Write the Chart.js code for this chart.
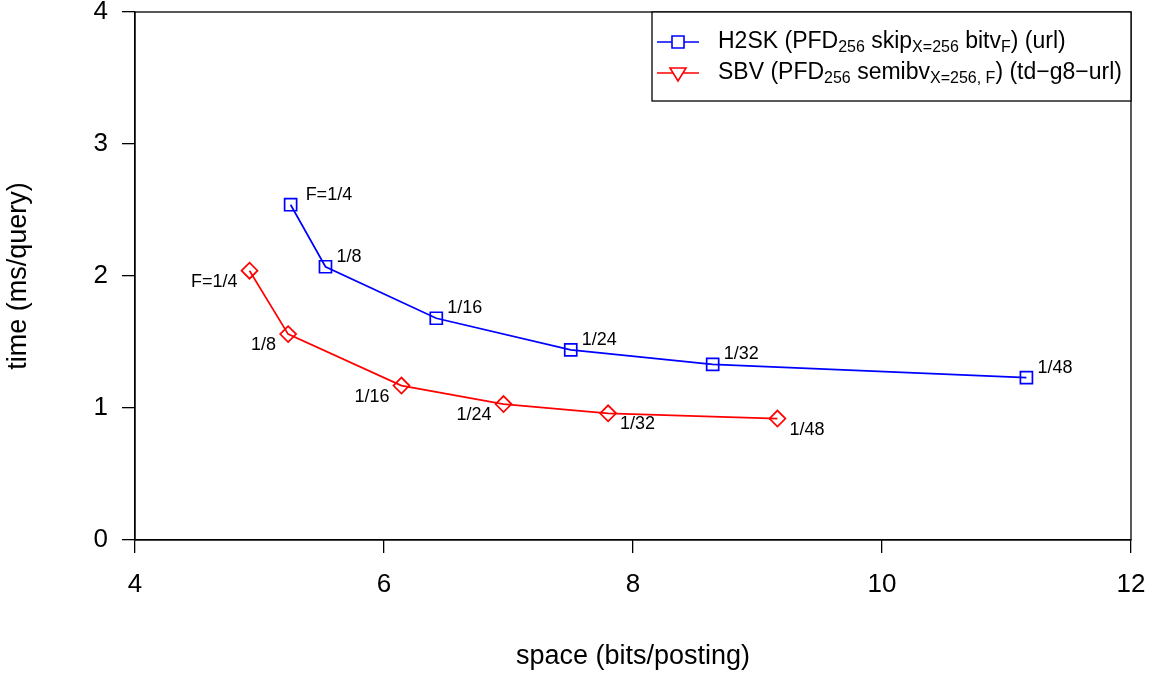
<!DOCTYPE html>
<html>
<head>
<meta charset="utf-8">
<script src="https://cdn.jsdelivr.net/npm/chart.js@4.4.0/dist/chart.umd.min.js"></script>
<style>
  html, body { margin: 0; padding: 0; background: #ffffff; }
  #wrap { width: 1154px; height: 677px; }
</style>
</head>
<body>
<div id="wrap"><canvas id="chart" width="1154" height="677"></canvas></div>
<script>
// Space/time trade-off of two index layouts as the bit-vector fraction F varies.
const h2skSpace = [5.25, 5.53, 6.42, 7.50, 8.64, 11.16];
const h2skTime  = [2.54, 2.07, 1.68, 1.44, 1.33, 1.23];
const sbvSpace  = [4.92, 5.23, 6.14, 6.96, 7.80, 9.16];
const sbvTime   = [2.04, 1.56, 1.17, 1.03, 0.96, 0.92];
const fractionLabels = ["F=1/4", "1/8", "1/16", "1/24", "1/32", "1/48"];
const xTicks = [4, 6, 8, 10, 12];
const yTicks = [0, 1, 2, 3, 4];
const xTitle = "space (bits/posting)";
const yTitle = "time (ms/query)";
// legend entries: [text, isSubscript]
const h2skLegend = [["H2SK (PFD", 0], ["256", 1], [" skip", 0], ["X=256", 1], [" bitv", 0], ["F", 1], [") (url)", 0]];
const sbvLegend  = [["SBV (PFD", 0], ["256", 1], [" semibv", 0], ["X=256, F", 1], [") (td\u2212g8\u2212url)", 0]];

const FONT = "'Liberation Sans', Arial, Helvetica, sans-serif";
const BLUE = "#0000ff";
const RED = "#ff0000";

function toPoints(xs, ys) {
  return xs.map((x, i) => ({ x: x, y: ys[i] }));
}

// label placement for each series: alignment and offset from the marker
const h2skLabelPlace = (i) => ({ align: "left", dx: i === 0 ? 15 : 11, dy: -10 });
const sbvLabelPlace = (i) => (i < 4 ? { align: "right", dx: -12, dy: 11 } : { align: "left", dx: 12, dy: 11 });

const pointLabels = {
  id: "pointLabels",
  afterDatasetsDraw(chart) {
    const ctx = chart.ctx;
    ctx.save();
    ctx.font = "18px " + FONT;
    ctx.fillStyle = "#000";
    ctx.textBaseline = "middle";
    chart.data.datasets.forEach((ds, di) => {
      const meta = chart.getDatasetMeta(di);
      const place = di === 0 ? h2skLabelPlace : sbvLabelPlace;
      meta.data.forEach((pt, i) => {
        const p = place(i);
        ctx.textAlign = p.align;
        ctx.fillText(fractionLabels[i], pt.x + p.dx, pt.y + p.dy);
      });
    });
    ctx.restore();
  }
};

const frameBox = {
  id: "frameBox",
  afterDraw(chart) {
    const { left, top, right, bottom } = chart.chartArea;
    const ctx = chart.ctx;
    ctx.save();
    ctx.strokeStyle = "#000";
    ctx.lineWidth = 1.3;
    ctx.strokeRect(left, top, right - left, bottom - top);
    ctx.restore();
  }
};

function drawRich(ctx, parts, x, y) {
  let cx = x;
  parts.forEach(([t, sub]) => {
    ctx.font = (sub ? "16px " : "23px ") + FONT;
    ctx.fillText(t, cx, sub ? y + 6 : y);
    cx += ctx.measureText(t).width;
  });
}

const richLegend = {
  id: "richLegend",
  afterDraw(chart) {
    const ctx = chart.ctx;
    const area = chart.chartArea;
    const boxW = 479, boxH = 89;
    const bx = area.right - boxW, by = area.top;
    ctx.save();
    ctx.fillStyle = "#fff";
    ctx.fillRect(bx, by, boxW, boxH);
    ctx.strokeStyle = "#000";
    ctx.lineWidth = 1.3;
    ctx.strokeRect(bx, by, boxW, boxH);
    const rows = [
      { parts: h2skLegend, color: BLUE, y: by + 30, marker: "square" },
      { parts: sbvLegend, color: RED, y: by + 61, marker: "triangle" }
    ];
    rows.forEach(r => {
      ctx.strokeStyle = r.color;
      ctx.lineWidth = 1.6;
      ctx.beginPath();
      ctx.moveTo(bx + 5, r.y);
      ctx.lineTo(bx + 47, r.y);
      ctx.stroke();
      const mx = bx + 26;
      ctx.fillStyle = "#fff";
      ctx.beginPath();
      if (r.marker === "square") {
        ctx.rect(mx - 6, r.y - 6, 12, 12);
      } else {
        ctx.moveTo(mx - 8, r.y - 5);
        ctx.lineTo(mx + 8, r.y - 5);
        ctx.lineTo(mx, r.y + 8);
        ctx.closePath();
      }
      ctx.fill();
      ctx.stroke();
      ctx.fillStyle = "#000";
      ctx.textAlign = "left";
      ctx.textBaseline = "middle";
      drawRich(ctx, r.parts, bx + 66, r.y);
    });
    ctx.restore();
  }
};

// keep the plot region fixed regardless of tick label overhang
function noOverhang(s) {
  s.paddingTop = 0; s.paddingBottom = 0; s.paddingLeft = 0; s.paddingRight = 0;
}

const chart = new Chart(document.getElementById("chart"), {
  type: "scatter",
  data: {
    datasets: [
      {
        label: "H2SK",
        data: toPoints(h2skSpace, h2skTime),
        showLine: true,
        borderColor: BLUE,
        backgroundColor: "rgba(0,0,0,0)",
        borderWidth: 1.7,
        pointStyle: "rect",
        pointRadius: 8.5,
        pointBorderWidth: 1.7,
        pointBorderColor: BLUE,
        pointBackgroundColor: "rgba(0,0,0,0)"
      },
      {
        label: "SBV",
        data: toPoints(sbvSpace, sbvTime),
        showLine: true,
        borderColor: RED,
        backgroundColor: "rgba(0,0,0,0)",
        borderWidth: 1.7,
        pointStyle: "rectRot",
        pointRadius: 8,
        pointBorderWidth: 1.7,
        pointBorderColor: RED,
        pointBackgroundColor: "rgba(0,0,0,0)"
      }
    ]
  },
  options: {
    responsive: false,
    animation: false,
    devicePixelRatio: 1,
    layout: { padding: { top: 12, right: 23, left: 0, bottom: 0 } },
    plugins: {
      legend: { display: false },
      tooltip: { enabled: false }
    },
    scales: {
      x: {
        type: "linear",
        min: xTicks[0],
        max: xTicks[xTicks.length - 1],
        afterBuildTicks: (s) => { s.ticks = xTicks.map(v => ({ value: v })); },
        afterFit: (s) => { s.height = 137; noOverhang(s); },
        grid: { display: true, drawOnChartArea: false, drawTicks: true, tickLength: 13, color: "#000", lineWidth: 1.3 },
        border: { display: true, color: "#000", width: 1.3 },
        ticks: { color: "#000", padding: 16, font: { family: FONT, size: 26 }, maxRotation: 0 },
        title: { display: true, text: xTitle, color: "#000", font: { family: FONT, size: 27 }, padding: { top: 0, bottom: 4 } }
      },
      y: {
        type: "linear",
        min: yTicks[0],
        max: yTicks[yTicks.length - 1],
        afterBuildTicks: (s) => { s.ticks = yTicks.map(v => ({ value: v })); },
        afterFit: (s) => { s.width = 135; noOverhang(s); },
        grid: { display: true, drawOnChartArea: false, drawTicks: true, tickLength: 13, color: "#000", lineWidth: 1.3 },
        border: { display: true, color: "#000", width: 1.3 },
        ticks: { color: "#000", padding: 14, font: { family: FONT, size: 26 } },
        title: { display: true, text: yTitle, color: "#000", font: { family: FONT, size: 27 }, padding: { top: 2, bottom: 0 } }
      }
    }
  },
  plugins: [pointLabels, frameBox, richLegend]
});
</script>
</body>
</html>
